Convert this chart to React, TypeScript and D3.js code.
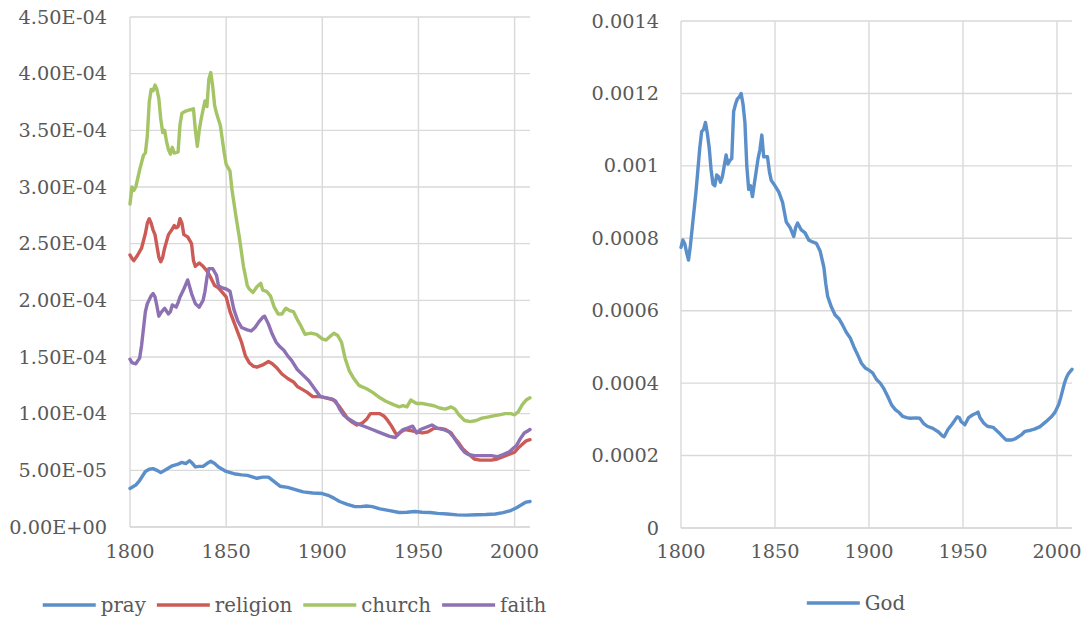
import React from "react";
import * as d3 from "d3";

// Values for the left chart are in units of 1e-5, right chart in units of 1e-4
const pray: [number, number][] = [
  [1800, 3.4], [1803, 3.7], [1805, 4.1], [1808, 4.9], [1810, 5.1], [1812, 5.15], [1814, 5.0], [1816, 4.8],
  [1819, 5.1], [1822, 5.4], [1825, 5.55], [1827, 5.7], [1829, 5.6], [1831, 5.85], [1832, 5.7], [1834, 5.3],
  [1836, 5.35], [1838, 5.35], [1840, 5.6], [1842, 5.8], [1844, 5.6], [1846, 5.3], [1850, 4.9], [1854, 4.7],
  [1858, 4.6], [1861, 4.55], [1864, 4.4], [1866, 4.3], [1869, 4.4], [1872, 4.4], [1875, 4.0], [1878, 3.6],
  [1882, 3.5], [1886, 3.3], [1890, 3.1], [1895, 3.0], [1900, 2.95], [1903, 2.8], [1906, 2.55], [1909, 2.25],
  [1913, 2.0], [1917, 1.8], [1920, 1.8], [1923, 1.85], [1926, 1.8], [1930, 1.6], [1935, 1.45], [1940, 1.28],
  [1944, 1.3], [1948, 1.37], [1952, 1.3], [1956, 1.28], [1960, 1.2], [1965, 1.15], [1970, 1.07], [1975, 1.05],
  [1980, 1.08], [1985, 1.1], [1990, 1.15], [1994, 1.27], [1998, 1.45], [2001, 1.7], [2004, 2.0], [2006, 2.2],
  [2008, 2.25],
];

const religion: [number, number][] = [
  [1800, 24.0], [1801, 23.7], [1802, 23.5], [1804, 24.0], [1806, 24.6], [1808, 25.9], [1809, 26.8], [1810, 27.2],
  [1811, 26.8], [1812, 26.2], [1813, 25.8], [1814, 24.8], [1815, 23.8], [1816, 23.4], [1817, 23.8], [1818, 24.6],
  [1820, 25.8], [1822, 26.3], [1823, 26.6], [1824, 26.4], [1825, 26.5], [1826, 27.2], [1827, 26.8], [1828, 25.8],
  [1830, 25.6], [1832, 25.0], [1833, 23.5], [1834, 23.0], [1836, 23.3], [1838, 23.0], [1840, 22.6], [1842, 22.0],
  [1844, 21.3], [1846, 21.1], [1848, 20.7], [1850, 20.3], [1852, 19.0], [1854, 18.1], [1856, 17.2], [1858, 16.3],
  [1860, 15.1], [1862, 14.5], [1864, 14.2], [1866, 14.1], [1869, 14.3], [1872, 14.6], [1874, 14.4], [1876, 14.1],
  [1879, 13.5], [1882, 13.1], [1885, 12.8], [1887, 12.4], [1890, 12.1], [1892, 11.9], [1895, 11.5], [1899, 11.5],
  [1902, 11.4], [1906, 11.2], [1909, 10.6], [1911, 10.1], [1913, 9.6], [1915, 9.3], [1918, 9.0], [1921, 9.2],
  [1923, 9.5], [1925, 10.0], [1927, 10.0], [1930, 10.0], [1932, 9.8], [1934, 9.4], [1936, 8.9], [1938, 8.3],
  [1939, 8.1], [1941, 8.4], [1943, 8.6], [1946, 8.5], [1949, 8.4], [1952, 8.3], [1955, 8.4], [1958, 8.7],
  [1961, 8.7], [1964, 8.6], [1967, 8.3], [1969, 7.8], [1971, 7.4], [1973, 6.9], [1975, 6.6], [1977, 6.3],
  [1979, 6.0], [1982, 5.9], [1985, 5.9], [1988, 5.9], [1991, 6.0], [1994, 6.2], [1997, 6.4], [2000, 6.6],
  [2002, 7.0], [2004, 7.3], [2006, 7.6], [2008, 7.7],
];

const church: [number, number][] = [
  [1800, 28.5], [1801, 30.0], [1802, 29.7], [1803, 30.0], [1805, 31.5], [1807, 32.8], [1808, 33.0], [1809, 34.5],
  [1810, 37.5], [1811, 38.6], [1812, 38.5], [1813, 39.0], [1814, 38.6], [1815, 37.8], [1816, 36.0], [1817, 34.8],
  [1818, 35.0], [1819, 34.0], [1820, 33.3], [1821, 32.9], [1822, 33.5], [1823, 33.0], [1825, 33.1], [1826, 35.5],
  [1827, 36.5], [1829, 36.7], [1831, 36.8], [1833, 36.9], [1834, 35.0], [1835, 33.6], [1836, 35.0], [1837, 36.0],
  [1838, 36.8], [1839, 37.6], [1840, 37.1], [1841, 39.5], [1842, 40.1], [1843, 38.9], [1844, 37.2], [1845, 36.5],
  [1847, 35.4], [1849, 33.0], [1850, 32.0], [1852, 31.4], [1853, 29.8], [1855, 27.5], [1857, 25.4], [1859, 23.0],
  [1861, 21.3], [1862, 21.0], [1864, 20.7], [1866, 21.2], [1868, 21.5], [1869, 20.9], [1871, 20.8], [1873, 20.4],
  [1875, 19.4], [1877, 18.8], [1879, 18.8], [1881, 19.3], [1883, 19.1], [1885, 19.0], [1887, 18.3], [1889, 17.7],
  [1891, 17.0], [1894, 17.1], [1897, 17.0], [1900, 16.6], [1902, 16.5], [1904, 16.8], [1906, 17.1], [1908, 16.9],
  [1910, 16.3], [1912, 14.8], [1914, 13.8], [1916, 13.2], [1919, 12.5], [1923, 12.2], [1926, 11.9], [1930, 11.4],
  [1933, 11.1], [1937, 10.8], [1940, 10.6], [1942, 10.7], [1944, 10.6], [1946, 11.2], [1949, 10.9], [1952, 10.9],
  [1955, 10.8], [1958, 10.7], [1961, 10.5], [1964, 10.4], [1967, 10.6], [1969, 10.4], [1971, 9.9], [1974, 9.4],
  [1977, 9.3], [1980, 9.4], [1983, 9.6], [1986, 9.7], [1989, 9.8], [1992, 9.9], [1995, 10.0], [1998, 10.0],
  [2000, 9.9], [2002, 10.2], [2004, 10.8], [2006, 11.2], [2008, 11.4],
];

const faith: [number, number][] = [
  [1800, 14.8], [1801, 14.5], [1803, 14.4], [1805, 14.9], [1806, 16.0], [1807, 17.5], [1808, 19.0], [1809, 19.7],
  [1811, 20.4], [1812, 20.6], [1813, 20.3], [1814, 19.5], [1815, 18.6], [1816, 18.9], [1818, 19.3], [1820, 18.8],
  [1821, 19.0], [1822, 19.6], [1824, 19.4], [1825, 19.8], [1826, 20.3], [1828, 21.0], [1830, 21.8], [1831, 21.2],
  [1832, 20.6], [1834, 19.7], [1836, 19.4], [1838, 20.0], [1839, 20.8], [1840, 22.0], [1841, 22.8], [1843, 22.8],
  [1844, 22.5], [1845, 22.2], [1846, 21.3], [1848, 21.1], [1850, 21.0], [1852, 20.8], [1854, 19.2], [1856, 18.2],
  [1858, 17.6], [1861, 17.4], [1863, 17.3], [1865, 17.6], [1867, 18.1], [1869, 18.5], [1870, 18.6], [1872, 17.9],
  [1874, 17.0], [1876, 16.3], [1878, 15.9], [1880, 15.6], [1882, 15.1], [1884, 14.7], [1887, 13.9], [1890, 13.4],
  [1893, 12.9], [1896, 12.2], [1899, 11.5], [1902, 11.4], [1905, 11.3], [1907, 11.1], [1909, 10.4], [1911, 9.9],
  [1914, 9.5], [1917, 9.2], [1920, 9.0], [1923, 8.8], [1926, 8.6], [1929, 8.4], [1932, 8.2], [1935, 8.0],
  [1938, 7.9], [1940, 8.3], [1942, 8.6], [1944, 8.7], [1947, 8.9], [1949, 8.3], [1951, 8.6], [1954, 8.8],
  [1957, 9.0], [1960, 8.7], [1963, 8.6], [1966, 8.4], [1968, 8.0], [1970, 7.5], [1972, 7.0], [1974, 6.6],
  [1976, 6.4], [1979, 6.3], [1982, 6.3], [1985, 6.3], [1988, 6.3], [1991, 6.2], [1994, 6.4], [1997, 6.6],
  [1999, 6.9], [2001, 7.2], [2003, 7.8], [2005, 8.3], [2007, 8.5], [2008, 8.6],
];

const god: [number, number][] = [
  [1800, 7.75], [1801, 7.95], [1802, 7.85], [1803, 7.6], [1804, 7.4], [1805, 7.8], [1806, 8.3], [1807, 8.8],
  [1808, 9.3], [1809, 9.9], [1810, 10.5], [1811, 10.95], [1812, 11.0], [1813, 11.2], [1814, 10.9], [1815, 10.5],
  [1816, 9.9], [1817, 9.5], [1818, 9.45], [1819, 9.75], [1820, 9.7], [1821, 9.55], [1822, 9.7], [1823, 10.0],
  [1824, 10.3], [1825, 10.05], [1826, 10.15], [1827, 10.2], [1828, 11.5], [1829, 11.7], [1830, 11.85], [1831, 11.9],
  [1832, 12.0], [1833, 11.7], [1834, 11.2], [1835, 10.0], [1836, 9.35], [1837, 9.45], [1838, 9.15], [1839, 9.5],
  [1840, 9.85], [1841, 10.2], [1842, 10.45], [1843, 10.85], [1844, 10.25], [1845, 10.25], [1846, 10.25], [1847, 9.85],
  [1848, 9.6], [1850, 9.45], [1852, 9.28], [1854, 9.0], [1856, 8.45], [1858, 8.3], [1860, 8.05], [1861, 8.3],
  [1862, 8.42], [1864, 8.23], [1866, 8.15], [1868, 7.95], [1870, 7.9], [1872, 7.86], [1874, 7.65], [1876, 7.2],
  [1877, 6.75], [1878, 6.4], [1880, 6.1], [1882, 5.88], [1884, 5.78], [1886, 5.6], [1888, 5.4], [1890, 5.25],
  [1892, 5.0], [1894, 4.78], [1896, 4.55], [1898, 4.42], [1900, 4.36], [1902, 4.28], [1904, 4.1], [1906, 4.0],
  [1908, 3.84], [1910, 3.63], [1912, 3.4], [1914, 3.27], [1916, 3.19], [1918, 3.08], [1920, 3.05], [1922, 3.03],
  [1925, 3.04], [1927, 3.03], [1929, 2.89], [1931, 2.81], [1934, 2.75], [1937, 2.65], [1939, 2.55], [1940, 2.52],
  [1942, 2.72], [1944, 2.85], [1946, 3.0], [1947, 3.07], [1948, 3.05], [1949, 2.94], [1951, 2.85], [1953, 3.05],
  [1955, 3.12], [1957, 3.17], [1958, 3.2], [1959, 3.05], [1961, 2.9], [1963, 2.81], [1966, 2.78], [1969, 2.64],
  [1971, 2.53], [1973, 2.43], [1976, 2.43], [1978, 2.47], [1981, 2.57], [1983, 2.67], [1986, 2.7], [1988, 2.73],
  [1991, 2.8], [1994, 2.93], [1997, 3.07], [1999, 3.2], [2001, 3.42], [2002, 3.6], [2003, 3.8], [2004, 4.0],
  [2005, 4.15], [2006, 4.25], [2007, 4.32], [2008, 4.38],
];

const yearTicks = [1800, 1850, 1900, 1950, 2000];
const leftYTicks = [0, 5, 10, 15, 20, 25, 30, 35, 40, 45]; // x 1e-5
const rightYTicks = [0, 2, 4, 6, 8, 10, 12, 14]; // x 1e-4
const leftNames = ["pray", "religion", "church", "faith"];
const leftColors = ["#5B8FCA", "#CD5B55", "#A5C466", "#8D71B3"];
const godColor = "#5B8FCA";

const FONT = "'DejaVu Serif', serif";
const TEXT = "#595959";
const GRID = "#D9D9D9";
const AXIS_SIZE = 19.3;
const LEGEND_SIZE = 19.8;

function fmtExp(v: number) {
  const s = (v * 1e-5).toExponential(2); // e.g. 4.50e-4
  const [m, e] = s.split("e");
  const sign = e[0] === "-" ? "-" : "+";
  const digits = e.replace(/[+-]/, "").padStart(2, "0");
  return `${m}E${sign}${digits}`;
}
function fmtDec(v: number) {
  return String(Number((v * 1e-4).toFixed(4)));
}

function measure(text: string, size: number) {
  const c = document.createElement("canvas").getContext("2d");
  if (!c) return text.length * size * 0.55;
  c.font = `${size}px 'DejaVu Serif'`;
  return c.measureText(text).width;
}

type Panel = {
  x0: number; x1: number; y0: number; y1: number;
  yMax: number; yTicks: number[]; fmt: (v: number) => string; labelX: number;
};

function Grid({ p, x, y }: { p: Panel; x: d3.ScaleLinear<number, number>; y: d3.ScaleLinear<number, number> }) {
  return (
    <g>
      {p.yTicks.map((t) => (
        <line key={"h" + t} x1={p.x0} x2={p.x1} y1={y(t)} y2={y(t)} stroke={GRID} strokeWidth={1.4} />
      ))}
      {yearTicks.map((t) => (
        <line key={"v" + t} x1={x(t)} x2={x(t)} y1={p.y1} y2={p.y0} stroke={GRID} strokeWidth={1.4} />
      ))}
      <line x1={p.x0} x2={p.x1} y1={p.y0} y2={p.y0} stroke={GRID} strokeWidth={1.6} />
      {p.yTicks.map((t) => (
        <text key={"yl" + t} x={p.labelX} y={y(t)} textAnchor="end" dominantBaseline="central"
          fontFamily={FONT} fontSize={AXIS_SIZE} fill={TEXT}>{p.fmt(t)}</text>
      ))}
      {yearTicks.map((t) => (
        <text key={"xl" + t} x={x(t)} y={551} textAnchor="middle" dominantBaseline="central"
          fontFamily={FONT} fontSize={AXIS_SIZE} fill={TEXT}>{t}</text>
      ))}
    </g>
  );
}

function Legend({ names, colors, cx, cy }: { names: string[]; colors: string[]; cx: number; cy: number }) {
  const size = LEGEND_SIZE, lineLen = 53, gapT = 5, gapI = 11;
  const widths = names.map((n) => measure(n, size));
  const total = widths.reduce((a, w) => a + lineLen + gapT + w, 0) + gapI * (names.length - 1);
  let x = cx - total / 2;
  const items = names.map((n, i) => {
    const x0 = x;
    x += lineLen + gapT + widths[i] + gapI;
    return (
      <g key={n}>
        <line x1={x0} x2={x0 + lineLen} y1={cy} y2={cy} stroke={colors[i]} strokeWidth={3.5} />
        <text x={x0 + lineLen + gapT} y={cy} dominantBaseline="central" fontFamily={FONT}
          fontSize={size} fill={TEXT}>{n}</text>
      </g>
    );
  });
  return <g>{items}</g>;
}

export default function App() {
  const L: Panel = { x0: 130, x1: 530, y0: 527, y1: 17, yMax: 45, yTicks: leftYTicks, fmt: fmtExp, labelX: 107 };
  const R: Panel = { x0: 681, x1: 1072, y0: 528, y1: 21, yMax: 14, yTicks: rightYTicks, fmt: fmtDec, labelX: 659 };

  const xL = d3.scaleLinear().domain([1800, 2008]).range([L.x0, L.x1]);
  const yL = d3.scaleLinear().domain([0, L.yMax]).range([L.y0, L.y1]);
  const xR = d3.scaleLinear().domain([1800, 2008]).range([R.x0, R.x1]);
  const yR = d3.scaleLinear().domain([0, R.yMax]).range([R.y0, R.y1]);

  const lineL = d3.line<[number, number]>().x((d) => xL(d[0])).y((d) => yL(d[1]));
  const lineR = d3.line<[number, number]>().x((d) => xR(d[0])).y((d) => yR(d[1]));

  const leftSeries = [pray, religion, church, faith];

  return (
    <svg width={1092} height={620} style={{ position: "absolute", left: 0, top: 0, background: "#fff" }}>
      <rect width={1092} height={620} fill="#fff" />
      <Grid p={L} x={xL} y={yL} />
      <Grid p={R} x={xR} y={yR} />
      {leftSeries.map((s, i) => (
        <path key={leftNames[i]} d={lineL(s) || ""} fill="none" stroke={leftColors[i]} strokeWidth={3.4}
          strokeLinejoin="round" strokeLinecap="round" />
      ))}
      <path d={lineR(god) || ""} fill="none" stroke={godColor} strokeWidth={3.4}
        strokeLinejoin="round" strokeLinecap="round" />
      <Legend names={leftNames} colors={leftColors} cx={294.5} cy={605} />
      <Legend names={["God"]} colors={[godColor]} cx={856} cy={603} />
    </svg>
  );
}
